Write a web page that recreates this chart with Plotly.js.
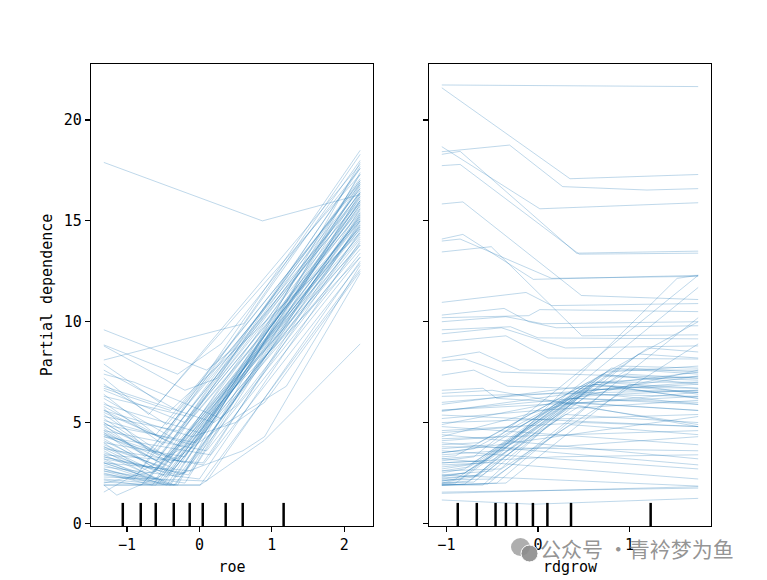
<!DOCTYPE html>
<html>
<head>
<meta charset="utf-8">
<script src="https://cdn.plot.ly/plotly-3.0.1.min.js"></script>
<style>html,body{margin:0;padding:0;background:#fff;}#chart{width:767px;height:580px;}</style>
</head>
<body>
<div id="chart"></div>
<script>
// ICE curves for "roe": each line is a list of [roe, partial dependence] knots
const roeIce = [
 [[-1.32,17.9],[0.87,15.0],[2.22,16.3]],
 [[-1.32,9.6],[0.1,7.6],[0.45,8.6],[2.22,17.0]],
 [[-1.32,8.1],[0.61,9.9],[2.22,18.3]],
 [[-1.32,8.85],[-0.3,7.4],[0.3,8.9],[2.22,17.6]],
 [[-1.32,3.0],[-0.4,1.9],[0.01,1.9],[0.89,4.1],[2.22,8.9]],
 [[-1.32,8.8],[-0.2,6.6],[0.25,7.2],[2.22,16.6]],
 [[-1.32,7.4],[-0.9,7.0],[0.3,5.2],[2.22,14.8]],
 [[-1.32,6.8],[0.2,5.0],[0.5,5.8],[2.22,13.8]],
 [[-1.32,4.5],[-0.4,3.0],[0.3,4.8],[1.2,6.8],[2.22,12.8]],
 [[-1.32,3.3],[-0.3,2.4],[0.6,3.6],[0.9,4.3],[2.22,12.4]],
 [[-1.32,5.6],[-0.1,4.3],[0.5,5.0],[0.9,6.0],[2.22,12.5]],
 [[-1.32,1.9],[-0.33,1.9],[2.22,15.4]],
 [[-1.32,1.9],[0.01,1.9],[2.22,12.6]],
 [[-1.32,1.9],[-1.14,1.4],[-0.5,2.4],[2.22,15.2]],
 [[-1.32,1.55],[0.0,4.2],[2.22,16.8]],
 [[-1.32,2.0],[-0.6,2.6],[2.22,17.7]],
 [[-1.32,2.6],[-0.9,2.2],[2.22,18.5]],
 [[-1.32,7.9],[-0.55,6.0],[2.22,17.8]],
 [[-1.32,7.6],[-0.3,5.6],[2.22,16.9]],
 [[-1.32,7.2],[-0.7,5.4],[2.22,17.3]],
 [[-1.32,6.9],[-0.45,4.9],[2.22,16.2]],
 [[-1.32,6.6],[-0.2,5.0],[2.22,15.4]],
 [[-1.32,6.4],[-0.6,4.4],[2.22,16.8]],
 [[-1.32,6.2],[-0.35,4.2],[2.22,15.1]],
 [[-1.32,6.0],[-0.5,3.9],[2.22,17.1]],
 [[-1.32,5.9],[0.0,4.5],[2.22,14.6]],
 [[-1.32,5.7],[-0.7,3.6],[2.22,16.0]],
 [[-1.32,5.5],[-0.25,3.8],[2.22,15.7]],
 [[-1.32,5.4],[-0.45,3.3],[2.22,14.3]],
 [[-1.32,5.2],[-0.6,3.5],[2.22,16.4]],
 [[-1.32,5.1],[-0.1,3.9],[2.22,13.9]],
 [[-1.32,5.0],[-0.4,3.0],[2.22,15.2]],
 [[-1.32,4.9],[-0.75,3.3],[2.22,16.6]],
 [[-1.32,4.8],[-0.3,3.1],[2.22,14.8]],
 [[-1.32,4.7],[-0.5,2.9],[2.22,15.9]],
 [[-1.32,4.6],[0.1,3.6],[2.22,13.2]],
 [[-1.32,4.5],[-0.65,2.8],[2.22,17.0]],
 [[-1.32,4.4],[-0.35,2.7],[2.22,14.1]],
 [[-1.32,4.3],[-0.2,3.0],[2.22,16.3]],
 [[-1.32,4.2],[-0.55,2.6],[2.22,15.5]],
 [[-1.32,4.1],[-0.4,2.5],[2.22,13.6]],
 [[-1.32,4.0],[-0.8,2.7],[2.22,16.1]],
 [[-1.32,3.9],[-0.25,2.4],[2.22,14.9]],
 [[-1.32,3.8],[-0.45,2.3],[2.22,15.8]],
 [[-1.32,3.7],[0.05,2.9],[2.22,12.9]],
 [[-1.32,3.6],[-0.6,2.2],[2.22,16.7]],
 [[-1.32,3.5],[-0.3,2.3],[2.22,14.4]],
 [[-1.32,3.4],[-0.5,2.1],[2.22,15.3]],
 [[-1.32,3.3],[-0.15,2.4],[2.22,17.4]],
 [[-1.32,3.2],[-0.7,2.2],[2.22,14.6]],
 [[-1.32,3.1],[-0.4,2.0],[2.22,16.0]],
 [[-1.32,3.0],[-0.35,1.9],[2.22,13.4]],
 [[-1.32,2.9],[-0.55,2.0],[2.22,15.0]],
 [[-1.32,2.8],[0.0,2.2],[2.22,14.0]],
 [[-1.32,2.7],[-0.45,1.9],[2.22,16.5]],
 [[-1.32,2.6],[-0.2,2.0],[2.22,15.6]],
 [[-1.32,2.5],[-0.65,1.9],[2.22,14.2]],
 [[-1.32,2.45],[-0.3,1.9],[2.22,17.9]],
 [[-1.32,2.4],[-0.5,1.95],[2.22,15.1]],
 [[-1.32,2.3],[0.1,2.1],[2.22,13.0]],
 [[-1.32,2.2],[-0.4,1.9],[2.22,16.2]],
 [[-1.32,2.15],[-0.8,1.9],[2.22,14.7]],
 [[-1.32,2.05],[-0.6,1.9],[2.22,15.8]],
 [[-1.32,6.3],[-0.15,5.3],[2.22,17.6]],
 [[-1.32,5.8],[-0.5,4.2],[2.22,18.0]],
 [[-1.32,4.9],[-0.05,4.0],[2.22,16.9]],
 [[-1.32,4.3],[0.15,3.4],[2.22,15.0]],
 [[-1.32,3.7],[-0.65,2.5],[2.22,13.8]],
 [[-1.32,3.0],[-0.1,2.6],[2.22,16.4]],
 [[-1.32,2.7],[-0.75,2.1],[2.22,13.2]],
 [[-1.32,5.3],[-0.3,4.6],[2.22,15.9]],
 [[-1.32,4.0],[-0.2,3.3],[2.22,17.3]],
 [[-1.32,3.4],[0.05,3.0],[2.22,14.5]],
 [[-1.32,6.7],[-0.4,5.6],[2.22,14.4]],
 [[-1.32,5.0],[-0.55,3.4],[2.22,15.6]],
 [[-1.32,4.4],[-0.3,3.2],[2.22,16.0]],
 [[-1.32,3.8],[-0.5,2.8],[2.22,14.7]],
 [[-1.32,5.6],[-0.4,4.0],[2.22,16.4]],
 [[-1.32,3.2],[-0.2,2.5],[2.22,15.3]],
 [[-1.32,4.6],[-0.6,3.1],[2.22,15.0]]
];

// ICE curves for "rdgrow": each line is a list of [rdgrow, partial dependence] knots
const rdgrowIce = [
 [[-1.05,21.74],[1.75,21.66]],
 [[-1.05,21.6],[0.35,17.09],[1.75,17.3]],
 [[-1.05,18.43],[-0.31,18.76],[0.27,16.7],[1.19,16.53],[1.75,16.6]],
 [[-1.05,18.68],[0.02,15.6],[1.75,15.9]],
 [[-1.05,18.3],[-0.85,18.45],[0.42,13.4],[1.75,13.5]],
 [[-1.05,17.74],[-0.85,17.8],[0.45,13.35],[1.75,13.4]],
 [[-1.05,15.84],[-0.82,15.94],[0.475,11.3],[1.75,11.1]],
 [[-1.05,14.1],[-0.82,14.33],[-0.05,12.1],[1.75,12.3]],
 [[-1.05,14.0],[-0.85,14.1],[0.15,12.15],[1.75,12.25]],
 [[-1.05,13.46],[-0.51,13.72],[0.48,9.3],[1.75,9.35]],
 [[-1.05,10.96],[-0.13,11.45],[0.15,10.8],[1.75,10.9]],
 [[-1.05,10.33],[-0.37,10.66],[-0.1,10.0],[0.2,9.7],[1.75,9.8]],
 [[-1.05,10.2],[-0.1,10.3],[0.02,10.6],[1.75,10.5]],
 [[-1.05,10.0],[-0.35,10.25],[0.05,9.9],[1.75,10.0]],
 [[-1.05,9.6],[-0.3,9.75],[0.0,9.2],[1.75,9.15]],
 [[-1.05,9.4],[-0.4,9.7],[0.3,8.7],[1.75,8.8]],
 [[-1.05,9.0],[-0.35,9.3],[0.11,8.2],[1.75,8.15]],
 [[-1.05,8.2],[-0.64,8.5],[-0.2,7.6],[1.75,7.6]],
 [[-1.05,8.05],[-0.8,8.15],[-0.4,7.5],[1.75,7.2]],
 [[-1.05,7.35],[-0.7,7.6],[-0.33,6.8],[1.75,6.5]],
 [[-1.05,6.6],[-0.6,6.7],[-0.45,6.2],[1.75,5.6]],
 [[-1.05,6.3],[1.75,6.6]],
 [[-1.05,6.45],[-0.5,6.6],[1.75,4.8]],
 [[-1.05,5.62],[1.75,6.3]],
 [[-1.05,5.6],[0.4,6.2],[1.75,5.9]],
 [[-1.05,5.55],[1.75,7.3]],
 [[-1.05,5.37],[1.75,4.8]],
 [[-1.05,5.2],[0.0,5.6],[1.75,6.1]],
 [[-1.05,5.0],[1.75,5.4]],
 [[-1.05,4.8],[1.75,3.9]],
 [[-1.05,4.6],[0.5,5.0],[1.75,4.8]],
 [[-1.05,4.4],[1.75,3.2]],
 [[-1.05,4.2],[1.75,4.6]],
 [[-1.05,4.0],[1.75,2.9]],
 [[-1.05,3.8],[1.75,3.6]],
 [[-1.05,3.6],[1.75,2.7]],
 [[-1.05,3.4],[1.75,4.3]],
 [[-1.05,3.2],[1.75,2.2]],
 [[-1.05,3.0],[0.2,3.3],[1.75,3.4]],
 [[-1.05,2.4],[1.75,1.85]],
 [[-1.05,1.49],[1.75,1.82]],
 [[-1.05,1.16],[-0.05,0.95],[1.75,1.24]],
 [[-1.05,1.55],[1.75,1.75]],
 [[-1.05,1.9],[-0.8,1.95],[0.42,6.2],[0.95,7.4],[1.75,7.2]],
 [[-1.05,1.9],[-0.6,1.9],[0.6,6.9],[1.75,6.5]],
 [[-1.05,2.0],[-0.85,2.2],[0.5,6.8],[1.75,7.5]],
 [[-1.05,2.1],[-0.7,2.3],[0.8,7.7],[1.75,7.4]],
 [[-1.05,2.3],[-0.8,2.5],[0.35,6.2],[1.75,6.0]],
 [[-1.05,2.4],[-0.5,2.6],[1.1,8.4],[1.75,8.2]],
 [[-1.05,2.5],[-0.8,2.7],[0.7,7.4],[1.75,6.9]],
 [[-1.05,2.7],[-0.75,2.9],[0.5,6.5],[1.75,5.9]],
 [[-1.05,2.8],[-0.6,3.0],[1.75,11.7]],
 [[-1.05,1.9],[-0.55,1.95],[1.75,10.2]],
 [[-1.05,2.2],[-0.65,2.4],[1.52,12.15],[1.75,12.3]],
 [[-1.05,3.1],[-0.7,3.3],[1.75,12.3]],
 [[-1.05,2.6],[-0.4,2.7],[1.75,8.9]],
 [[-1.05,3.3],[-0.9,3.35],[0.55,7.0],[1.75,7.0]],
 [[-1.05,3.0],[-0.6,3.1],[0.9,7.8],[1.75,7.7]],
 [[-1.05,3.5],[-0.7,3.7],[0.6,6.9],[1.75,6.2]],
 [[-1.05,3.7],[-0.5,3.9],[0.75,7.5],[1.75,7.8]],
 [[-1.05,2.0],[-0.75,2.1],[0.3,5.4],[1.75,5.0]],
 [[-1.05,4.1],[-0.4,4.3],[0.45,6.4],[1.75,6.3]],
 [[-1.05,1.95],[-0.9,2.0],[1.2,8.7],[1.75,8.5]],
 [[-1.05,4.5],[-0.2,4.8],[0.65,7.0],[1.75,6.7]],
 [[-1.05,2.9],[-0.55,3.0],[0.45,5.8],[1.75,4.9]],
 [[-1.05,2.15],[-0.5,2.2],[0.35,4.9],[1.75,4.4]],
 [[-1.05,3.9],[-0.65,4.0],[1.75,10.0]],
 [[-1.05,1.9],[-0.35,2.0],[1.0,6.9],[1.75,6.4]],
 [[-1.05,2.25],[-0.6,2.4],[0.55,6.6],[1.75,6.9]],
 [[-1.05,2.0],[-0.7,2.05],[0.65,7.0],[1.75,7.3]],
 [[-1.05,2.6],[-0.75,2.8],[0.45,6.3],[1.75,6.6]],
 [[-1.05,3.2],[-0.55,3.4],[0.7,7.3],[1.75,7.1]],
 [[-1.05,1.9],[-0.45,2.0],[0.8,6.8],[1.75,6.2]],
 [[-1.05,4.3],[0.3,5.9],[1.75,6.5]],
 [[-1.05,5.9],[0.5,6.8],[1.75,6.7]],
 [[-1.05,6.0],[-0.3,6.3],[1.75,7.0]],
 [[-1.05,4.9],[0.2,6.0],[1.75,7.6]],
 [[-1.05,2.35],[-0.8,2.5],[0.3,5.6],[1.0,7.7],[1.75,7.5]],
 [[-1.05,3.5],[1.75,5.3]],
 [[-1.05,2.1],[-0.9,2.2],[0.4,6.0],[1.75,5.6]]
];

// deciles shown as rug marks
const roeDeciles = [-1.058, -0.810, -0.603, -0.354, -0.134, 0.046, 0.363, 0.598, 1.163];
const rdgrowDeciles = [-0.876, -0.668, -0.463, -0.350, -0.230, -0.055, 0.103, 0.361, 1.231];

const roeTicks = [-1, 0, 1, 2];
const rdgrowTicks = [-1, 0, 1];
const pdTicks = [0, 5, 10, 15, 20];

const lineStyle = {color: 'rgba(31,119,180,0.32)', width: 0.9};
function iceTraces(lines, xa, ya) {
  return lines.map(l => ({
    type: 'scatter', mode: 'lines',
    x: l.map(p => p[0]), y: l.map(p => p[1]),
    xaxis: xa, yaxis: ya, line: lineStyle,
    hoverinfo: 'skip', showlegend: false
  }));
}
const traces = iceTraces(roeIce, 'x', 'y').concat(iceTraces(rdgrowIce, 'x2', 'y2'));

const shapes = [];
roeDeciles.forEach(d => shapes.push({type: 'line', xref: 'x', yref: 'y domain', x0: d, x1: d, y0: 0, y1: 0.05, line: {color: 'black', width: 2.5}}));
rdgrowDeciles.forEach(d => shapes.push({type: 'line', xref: 'x2', yref: 'y2 domain', x0: d, x1: d, y0: 0, y1: 0.05, line: {color: 'black', width: 2.5}}));
// watermark icon
shapes.push({type: 'circle', xref: 'paper', yref: 'paper', x0: 511/767, x1: 530/767, y0: 1 - 556/580, y1: 1 - 538/580, fillcolor: 'rgba(160,160,160,0.85)', line: {width: 0}});
shapes.push({type: 'circle', xref: 'paper', yref: 'paper', x0: 521/767, x1: 538/767, y0: 1 - 562/580, y1: 1 - 545/580, fillcolor: 'rgba(140,140,140,0.9)', line: {color: 'white', width: 1}});

const font = {family: 'DejaVu Sans Mono, monospace', size: 15, color: 'black'};
const axisBase = {
  showline: true, mirror: true, linecolor: 'black', linewidth: 1.2,
  ticks: 'outside', ticklen: 5, tickwidth: 1.2, tickcolor: 'black',
  showgrid: false, zeroline: false, tickfont: font
};
const yDomain = [54/580, 516/580];

const layout = {
  width: 767, height: 580,
  margin: {l: 0, r: 0, t: 0, b: 0},
  paper_bgcolor: 'white', plot_bgcolor: 'white',
  font: font,
  showlegend: false,
  xaxis: Object.assign({}, axisBase, {
    domain: [91/767, 373/767], range: [-1.497, 2.397], anchor: 'y',
    tickvals: roeTicks, title: {text: 'roe', font: font, standoff: 8}
  }),
  yaxis: Object.assign({}, axisBase, {
    domain: yDomain, range: [-0.13, 22.78], anchor: 'x',
    tickvals: pdTicks, title: {text: 'Partial dependence', font: font, standoff: 7}
  }),
  xaxis2: Object.assign({}, axisBase, {
    domain: [429/767, 711/767], range: [-1.19, 1.89], anchor: 'y2',
    tickvals: rdgrowTicks, title: {text: 'rdgrow', font: font, standoff: 8}
  }),
  yaxis2: Object.assign({}, axisBase, {
    domain: yDomain, range: [-0.13, 22.78], anchor: 'x2',
    tickvals: pdTicks, showticklabels: false
  }),
  shapes: shapes,
  annotations: [{
    xref: 'paper', yref: 'paper', x: 538/767, y: 1 - 548/580,
    xanchor: 'left', yanchor: 'middle', showarrow: false,
    text: '公众号 ·青衿梦为鱼',
    font: {family: 'Noto Sans CJK SC', size: 21, color: 'rgba(120,120,120,0.8)'}
  }]
};

Plotly.newPlot('chart', traces, layout, {staticPlot: true, displayModeBar: false});
</script>
</body>
</html>
